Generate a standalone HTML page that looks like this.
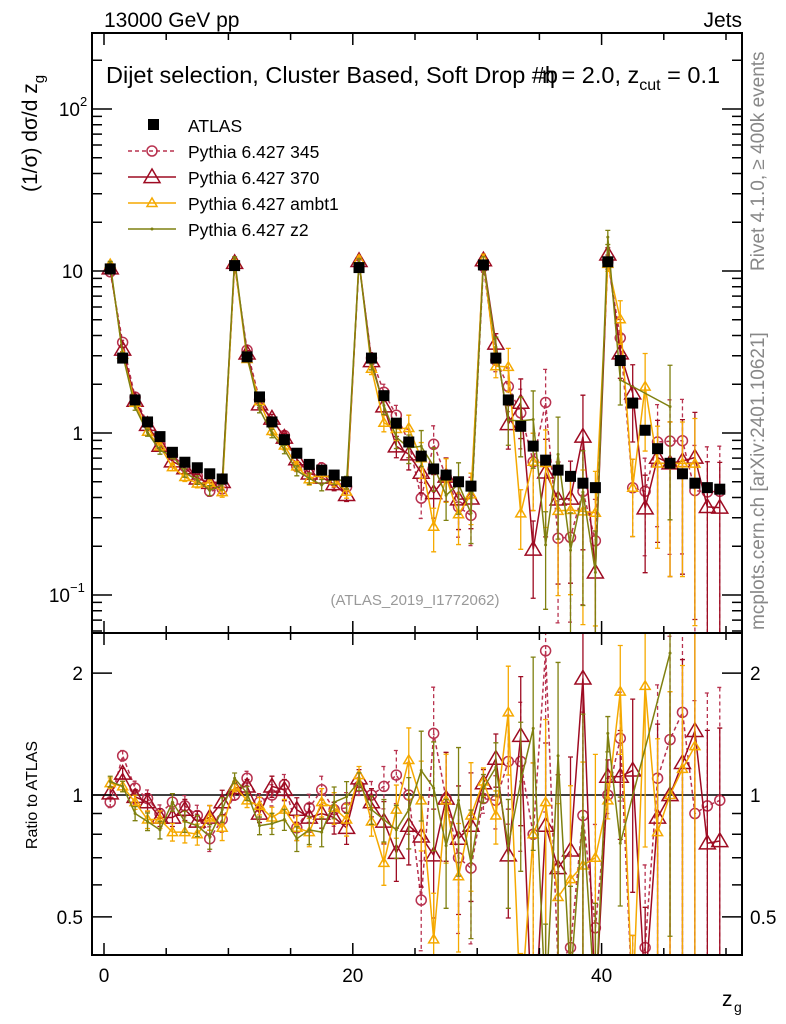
<!DOCTYPE html>
<html><head><meta charset="utf-8">
<style>
html,body{margin:0;padding:0;background:#fff;overflow:hidden;width:786px;height:1024px;}
svg{display:block;font-family:"Liberation Sans",Arial,sans-serif;}
</style></head>
<body>
<svg id="chart" width="786" height="1024" viewBox="0 0 786 1024" xmlns="http://www.w3.org/2000/svg">
<g id="marks"></g>
<g id="axes"></g>
</svg>
<script>
const bins = Array.from({length:50},(_,i)=>i+0.5);
const atlas = [10.3,2.9,1.6,1.17,0.95,0.76,0.66,0.61,0.56,0.52,
 10.8,2.95,1.67,1.17,0.91,0.75,0.64,0.59,0.55,0.5,
 10.5,2.9,1.7,1.15,0.88,0.72,0.6,0.55,0.5,0.47,
 10.9,2.9,1.6,1.1,0.83,0.68,0.59,0.54,0.49,0.46,
 11.4,2.8,1.53,1.04,0.8,0.65,0.56,0.49,0.46,0.45];
const r345 = [0.96,1.25,1.04,0.98,0.90,0.96,0.94,0.89,0.78,0.87,
 1.0,1.10,0.96,1.0,1.06,0.83,0.93,1.03,0.92,0.93,
 1.05,1.0,1.05,1.12,1.0,0.55,1.42,0.98,0.70,0.66,
 0.98,0.97,1.21,1.21,0.80,2.27,0.38,0.42,0.89,0.47,
 1.0,1.38,0.3,0.42,1.1,1.37,1.6,0.9,0.94,0.97];
const r370 = [1.01,1.13,0.99,0.96,0.88,0.88,0.92,0.86,0.88,0.96,
 1.04,1.05,0.90,1.05,1.03,0.92,0.88,0.90,0.88,0.83,
 1.10,0.96,0.86,0.72,0.84,0.79,0.71,0.98,0.78,0.84,
 1.07,1.23,0.71,1.40,0.23,0.84,0.66,0.73,1.94,0.3,
 1.11,1.11,1.15,0.33,0.88,1.0,1.2,1.44,0.76,0.77];
const rAmbt1 = [1.07,1.05,0.96,0.87,0.87,0.81,0.81,0.80,0.88,0.83,
 1.05,0.97,0.94,0.88,0.92,0.83,0.81,0.96,0.93,0.87,
 1.12,0.86,0.68,0.92,1.22,0.97,0.44,0.97,0.63,0.89,
 1.08,0.89,1.6,0.29,0.80,0.96,0.56,0.62,0.67,0.70,
 0.97,1.8,0.3,1.86,0.81,1.0,1.16,1.32,null,null];
const rZ2 = [1.08,1.05,0.90,0.86,0.82,0.96,0.86,0.84,0.79,0.92,
 1.1,1.01,0.84,0.85,0.87,0.78,0.82,0.81,0.96,0.99,
 1.08,0.92,0.87,0.82,0.92,1.15,1.04,0.75,0.97,0.68,
 1.04,1.17,0.75,1.08,1.46,0.3,1.25,0.35,0.88,0.3,
 1.42,0.76,null,null,null,2.24,null,null,null,null];
const relErr = [0.03,0.03,0.04,0.05,0.05,0.05,0.06,0.06,0.07,0.07,
 0.03,0.04,0.05,0.06,0.06,0.07,0.08,0.08,0.09,0.09,
 0.05,0.08,0.12,0.15,0.2,0.25,0.3,0.3,0.35,0.35,
 0.08,0.15,0.3,0.4,0.5,0.6,0.7,0.7,0.8,0.8,
 0.1,0.3,0.5,0.6,0.7,0.8,0.8,0.9,0.9,0.9];

const NS="http://www.w3.org/2000/svg";
const L=92,R=742,T=33,MB=633,RB=955;
const X=v=>104+v*12.44;
const Ym=v=>271-(Math.log10(v)-1)*162;
const Yr=v=>795-Math.log10(v)*405;
const marks=document.getElementById('marks'), axes=document.getElementById('axes');
function el(tag,attrs,parent){const e=document.createElementNS(NS,tag);for(const k in attrs)e.setAttribute(k,attrs[k]);(parent||marks).appendChild(e);return e;}

const defs=el('defs',{},document.getElementById('chart'));
const c1=el('clipPath',{id:'cm'},defs);el('rect',{x:L,y:T,width:R-L,height:MB-T},c1);
const c2=el('clipPath',{id:'cr'},defs);el('rect',{x:L,y:MB,width:R-L,height:RB-MB},c2);
const gm=el('g',{'clip-path':'url(#cm)'});


const gr=el('g',{'clip-path':'url(#cr)'});



const ref=el('line',{x1:L,x2:R,y1:Yr(1),y2:Yr(1),stroke:'#000','stroke-width':1.5},gr);



const series=[
 {name:'pythia-345',r:r345,color:'#b8324f',dash:'4,3',marker:'circle',size:5},
 {name:'pythia-370',r:r370,color:'#9e0b22',dash:null,marker:'tri',size:8},
 {name:'pythia-ambt1',r:rAmbt1,color:'#f5a900',dash:null,marker:'tri',size:5},
 {name:'pythia-z2',r:rZ2,color:'#7f8010',dash:null,marker:'dot',size:1.5}
];
function marker(g,s,x,y){
 let m;
 if(s.marker==='circle') m=el('circle',{cx:x,cy:y,r:s.size,fill:'none',stroke:s.color,'stroke-width':1.5},g);
 else if(s.marker==='tri'){const a=s.size;m=el('polygon',{points:`${x},${y-a} ${x-a},${y+a*0.7} ${x+a},${y+a*0.7}`,fill:'none',stroke:s.color,'stroke-width':1.5},g);}
 else m=el('circle',{cx:x,cy:y,r:s.size,fill:s.color},g);
 return m;
}
series.forEach(s=>{
 [[gm,(i,v)=>Ym(atlas[i]*v)],[gr,(i,v)=>Yr(v)]].forEach(([par,yf],pi)=>{
  const g=el('g',{},par);
  
  
  let d='';
  bins.forEach((b,i)=>{const v=s.r[i];if(v==null)return;d+=(d?'L':'M')+X(b).toFixed(1)+','+yf(i,v).toFixed(1);});
  const p=el('path',{d:d,fill:'none',stroke:s.color,'stroke-width':1.5},g);
  if(s.dash)p.setAttribute('stroke-dasharray',s.dash);
  
  
  bins.forEach((b,i)=>{const v=s.r[i];if(v==null)return;
   const e=relErr[i];const x=X(b);
   const y1=yf(i,v*(1+e)),y2=yf(i,Math.max(v*(1-e),0.01));
   const eb=el('path',{d:`M${x},${y1}L${x},${y2}M${x-2.5},${y1}L${x+2.5},${y1}M${x-2.5},${y2}L${x+2.5},${y2}`,stroke:s.color,'stroke-width':1.3,fill:'none'},g);
   if(s.dash)eb.setAttribute('stroke-dasharray',s.dash);
   
   
   const m=marker(g,s,x,yf(i,v));
   
   
  });
 });
});
bins.forEach((b,i)=>{
 const r=el('rect',{x:X(b)-5.5,y:Ym(atlas[i])-5.5,width:11,height:11,fill:'#000'},gm);
 
 
});

function txt(x,y,s,attrs,name,parent){const t=el('text',Object.assign({x:x,y:y,'font-size':19,fill:'#000'},attrs||{}),parent||axes);t.textContent=s;return t;}
const f1=el('rect',{x:L,y:T,width:R-L,height:MB-T,fill:'none',stroke:'#000','stroke-width':2},axes);

const f2=el('rect',{x:L,y:MB,width:R-L,height:RB-MB,fill:'none',stroke:'#000','stroke-width':2},axes);

let tk='';
for(let v=0;v<=50;v+=5){const x=X(v);const len=v%20===0?12:7;
 tk+=`M${x},${RB}L${x},${RB-len}M${x},${MB}L${x},${MB-len}M${x},${MB}L${x},${MB+len}M${x},${T}L${x},${T+len}`;}
for(let d=-2;d<=2;d++)for(let k=1;k<10;k++){const v=k*Math.pow(10,d);if(v<0.058||v>295)continue;const y=Ym(v);const len=k===1?20:10;
 tk+=`M${L},${y}L${L+len},${y}M${R},${y}L${R-len},${y}`;}
[0.5,0.6,0.7,0.8,0.9,1,2].forEach(v=>{const y=Yr(v);const len=(v===1||v===2||v===0.5)?20:10;tk+=`M${L},${y}L${L+len},${y}M${R},${y}L${R-len},${y}`;});
const tp=el('path',{d:tk,stroke:'#000','stroke-width':1.5,fill:'none'},axes);


[[0,'0'],[20,'20'],[40,'40']].forEach(([v,s])=>txt(X(v),982,s,{'text-anchor':'middle'},'x-tick-label'));
txt(80,Ym(100)+7,'10',{'text-anchor':'end'},'y-tick-label-100');
txt(80,Ym(100)-3,'2',{'font-size':13},'y-tick-exp');
txt(83,Ym(10)+7,'10',{'text-anchor':'end'},'y-tick-label-10');
txt(83,Ym(1)+7,'1',{'text-anchor':'end'},'y-tick-label-1');
txt(70,Ym(0.1)+7,'10',{'text-anchor':'end'},'y-tick-label-0.1');
txt(70,Ym(0.1)-3,'−1',{'font-size':13},'y-tick-exp');
[[2,'2'],[1,'1'],[0.5,'0.5']].forEach(([v,s])=>{txt(83,Yr(v)+7,s,{'text-anchor':'end'},'ratio-tick-label-left');txt(750,Yr(v)+7,s,{},'ratio-tick-label-right');});
txt(104,27,'13000 GeV pp',{'font-size':21},'energy-label');
txt(742,27,'Jets',{'text-anchor':'end','font-size':21},'process-label');
const tt=txt(106,83,'Dijet selection, Cluster Based, Soft Drop #b',{'font-size':23.5},'plot-title');
const t2=el('tspan',{dx:-16},tt);t2.textContent='η = 2.0, z';
const t3=el('tspan',{dy:7,'font-size':16},tt);t3.textContent='cut';
const t4=el('tspan',{dy:-7},tt);t4.textContent=' = 0.1';
const yt=txt(0,0,'(1/σ) dσ/d z',{transform:'translate(37,192) rotate(-90)','font-size':21},'y-axis-title');
const ys=el('tspan',{dy:7,'font-size':15},yt);ys.textContent='g';
txt(0,0,'Ratio to ATLAS',{transform:'translate(37,795) rotate(-90)','font-size':16,'text-anchor':'middle'},'ratio-axis-title');
txt(722,1006,'z',{'font-size':21},'x-axis-title');
txt(734,1012,'g',{'font-size':14},'x-axis-title-sub');
txt(0,0,'Rivet 4.1.0, ≥ 400k events',{transform:'translate(764,271) rotate(-90)','font-size':19,fill:'#888'},'rivet-label');
txt(0,0,'mcplots.cern.ch [arXiv:2401.10621]',{transform:'translate(764,630) rotate(-90)','font-size':19,fill:'#888'},'mcplots-label');
txt(415,605,'(ATLAS_2019_I1772062)',{'text-anchor':'middle','font-size':15,fill:'#999'},'analysis-id');

const lg=el('g',{},axes);
const ly=[125,151,177,203,229];
const sq=el('rect',{x:148,y:ly[0]-6,width:11,height:11,fill:'#000'},lg);
txt(188,ly[0]+7,'ATLAS',{'font-size':17.5},'legend-entry',lg);
const names=['Pythia 6.427 345','Pythia 6.427 370','Pythia 6.427 ambt1','Pythia 6.427 z2'];
series.forEach((s,k)=>{const y=ly[k+1];
 const l=el('line',{x1:128,x2:176,y1:y,y2:y,stroke:s.color,'stroke-width':1.5},lg);
 if(s.dash)l.setAttribute('stroke-dasharray',s.dash);
 
 const m=marker(lg,s,152,y);
 txt(188,y+7,names[k],{'font-size':17.5},'legend-entry',lg);
});
</script>
</body></html>
